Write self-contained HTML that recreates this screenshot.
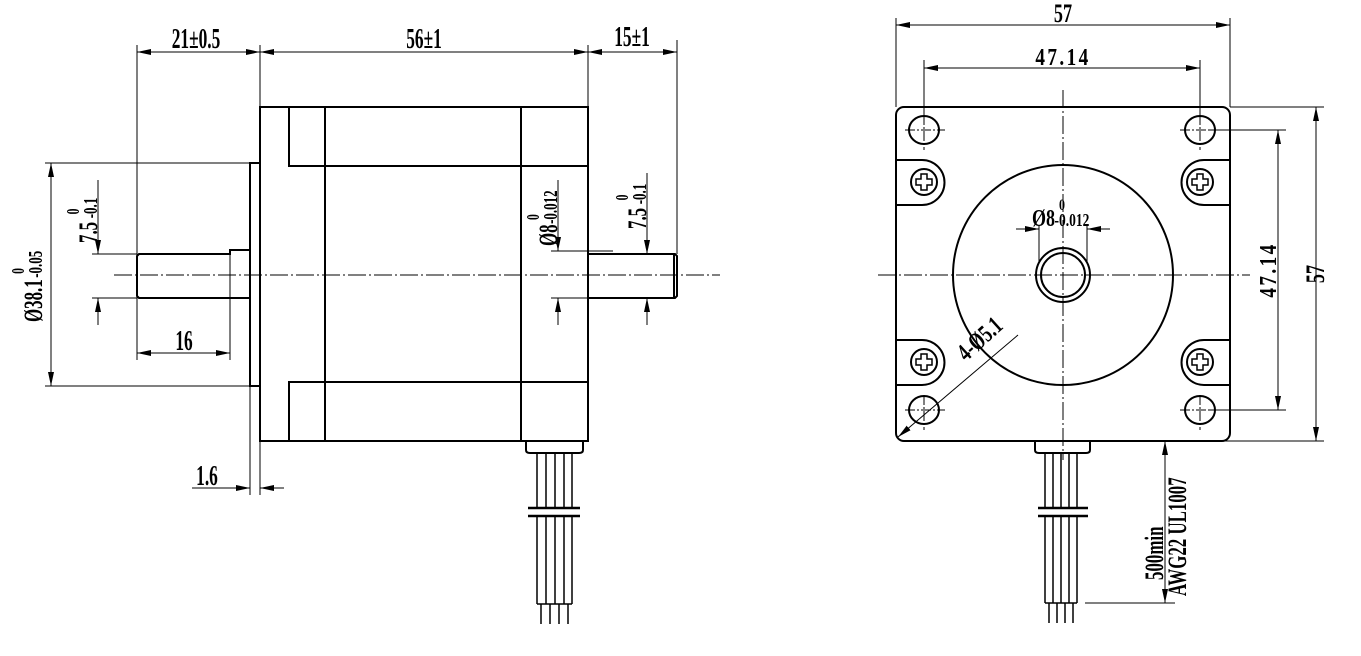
<!DOCTYPE html>
<html><head><meta charset="utf-8"><style>
html,body{margin:0;padding:0;background:#fff;}
svg{display:block;}
text{font-family:"Liberation Serif",serif;fill:#000;font-weight:bold;}
</style></head><body>
<svg width="1361" height="656" viewBox="0 0 1361 656" xmlns="http://www.w3.org/2000/svg">
<defs>
<marker id="a" viewBox="0 0 14 6" refX="14" refY="3" markerWidth="14" markerHeight="6" markerUnits="userSpaceOnUse" orient="auto-start-reverse"><path d="M0,0 L14,3 L0,6 Z" fill="#000"/></marker>
</defs>
<g stroke="#000" fill="none" stroke-width="1">
<line x1="137" y1="45" x2="137" y2="360"/>
<line x1="260" y1="45" x2="260" y2="107"/>
<line x1="588" y1="45" x2="588" y2="107"/>
<line x1="677" y1="40" x2="677" y2="254"/>
<line x1="137" y1="52" x2="260" y2="52" marker-start="url(#a)" marker-end="url(#a)"/>
<line x1="260" y1="52" x2="588" y2="52" marker-start="url(#a)" marker-end="url(#a)"/>
<line x1="588" y1="52" x2="677" y2="52" marker-start="url(#a)" marker-end="url(#a)"/>
<g stroke-width="2">
<rect x="260" y="107" width="328" height="334"/>
<polyline points="289,107 289,166 588,166"/>
<polyline points="289,441 289,382 588,382"/>
<line x1="325" y1="107" x2="325" y2="441"/>
<line x1="521" y1="107" x2="521" y2="441"/>
<polyline points="260,163 250,163 250,386 260,386"/>
<polyline points="250,250 230,250 230,254 139,254 137,256 137,296 139,298 250,298"/>
<line x1="230" y1="254" x2="230" y2="298" stroke-width="1"/>
<polyline points="588,254 675,254 677,256 677,296 675,298 588,298"/>
<line x1="674" y1="254" x2="674" y2="298"/>
<path d="M526,441 L526,450 Q526,453 530,453 L579,453 Q583,453 583,450 L583,441"/>
</g>
<g stroke-width="1.5">
<line x1="537" y1="453" x2="537" y2="508"/><line x1="546" y1="453" x2="546" y2="508"/><line x1="555" y1="453" x2="555" y2="508"/><line x1="564" y1="453" x2="564" y2="508"/><line x1="572" y1="453" x2="572" y2="508"/>
<line x1="528" y1="508" x2="580" y2="508" stroke-width="2.5"/>
<line x1="528" y1="516" x2="580" y2="516" stroke-width="2.5"/>
<line x1="537" y1="516" x2="537" y2="604"/><line x1="546" y1="516" x2="546" y2="604"/><line x1="555" y1="516" x2="555" y2="604"/><line x1="564" y1="516" x2="564" y2="604"/><line x1="572" y1="516" x2="572" y2="604"/>
<line x1="537" y1="604" x2="572" y2="604"/>
<line x1="541" y1="604" x2="541" y2="624"/><line x1="550" y1="604" x2="550" y2="624"/><line x1="559" y1="604" x2="559" y2="624"/><line x1="568" y1="604" x2="568" y2="624"/>
</g>
<line x1="114" y1="275" x2="720" y2="275" stroke-dasharray="18,3,2,3"/>
<line x1="45" y1="163" x2="250" y2="163"/>
<line x1="45" y1="386" x2="260" y2="386"/>
<line x1="51" y1="163" x2="51" y2="386" marker-start="url(#a)" marker-end="url(#a)"/>
<line x1="92" y1="254" x2="137" y2="254"/>
<line x1="92" y1="298" x2="137" y2="298"/>
<line x1="98" y1="180" x2="98" y2="254" marker-end="url(#a)"/>
<line x1="98" y1="325" x2="98" y2="298" marker-end="url(#a)"/>
<line x1="551" y1="251" x2="613" y2="251"/>
<line x1="551" y1="298" x2="588" y2="298"/>
<line x1="558" y1="180" x2="558" y2="251" marker-end="url(#a)"/>
<line x1="558" y1="325" x2="558" y2="298" marker-end="url(#a)"/>
<line x1="647" y1="173" x2="647" y2="254" marker-end="url(#a)"/>
<line x1="647" y1="325" x2="647" y2="298" marker-end="url(#a)"/>
<line x1="230" y1="298" x2="230" y2="360"/>
<line x1="137" y1="353" x2="230" y2="353" marker-start="url(#a)" marker-end="url(#a)"/>
<line x1="250" y1="386" x2="250" y2="495"/>
<line x1="260" y1="441" x2="260" y2="495"/>
<line x1="192" y1="488" x2="250" y2="488" marker-end="url(#a)"/>
<line x1="284" y1="488" x2="260" y2="488" marker-end="url(#a)"/>

<rect x="896" y="107" width="334" height="334" rx="8" stroke-width="2"/>
<g stroke-width="2">
<path d="M896,160 L922,160 A22,22 0 0 1 922,205 L896,205"/>
<path d="M1230,160 L1204,160 A22,22 0 0 0 1204,205 L1230,205"/>
<path d="M896,340 L922,340 A22,22 0 0 1 922,385 L896,385"/>
<path d="M1230,340 L1204,340 A22,22 0 0 0 1204,385 L1230,385"/>
<ellipse cx="924" cy="130" rx="15" ry="14"/>
<ellipse cx="1200" cy="130" rx="15" ry="14"/>
<ellipse cx="924" cy="410" rx="15" ry="14"/>
<ellipse cx="1200" cy="410" rx="15" ry="14"/>
<circle cx="1063" cy="275" r="110"/>
<circle cx="1063" cy="275" r="27"/>
<circle cx="1063" cy="275" r="22"/>
</g>
<g stroke-width="2">
<circle cx="924" cy="182" r="13"/><circle cx="1200" cy="182" r="13"/><circle cx="924" cy="362" r="13"/><circle cx="1200" cy="362" r="13"/>
</g>
<g stroke-width="1.5">
<path d="M921,174 h6 v5 h5 v6 h-5 v5 h-6 v-5 h-5 v-6 h5z"/>
<path d="M1197,174 h6 v5 h5 v6 h-5 v5 h-6 v-5 h-5 v-6 h5z"/>
<path d="M921,354 h6 v5 h5 v6 h-5 v5 h-6 v-5 h-5 v-6 h5z"/>
<path d="M1197,354 h6 v5 h5 v6 h-5 v5 h-6 v-5 h-5 v-6 h5z"/>
</g>
<line x1="878" y1="275" x2="1250" y2="275" stroke-dasharray="18,3,2,3"/>
<line x1="1063" y1="90" x2="1063" y2="460" stroke-dasharray="18,3,2,3"/>
<line x1="905" y1="130" x2="945" y2="130" stroke-dasharray="10,2,2,2"/><line x1="924" y1="115" x2="924" y2="150" stroke-dasharray="10,2,2,2"/>
<line x1="1180" y1="130" x2="1220" y2="130" stroke-dasharray="10,2,2,2"/><line x1="1200" y1="115" x2="1200" y2="150" stroke-dasharray="10,2,2,2"/>
<line x1="905" y1="410" x2="945" y2="410" stroke-dasharray="10,2,2,2"/><line x1="924" y1="395" x2="924" y2="430" stroke-dasharray="10,2,2,2"/>
<line x1="1180" y1="410" x2="1220" y2="410" stroke-dasharray="10,2,2,2"/><line x1="1200" y1="395" x2="1200" y2="430" stroke-dasharray="10,2,2,2"/>
<line x1="896" y1="18" x2="896" y2="107"/>
<line x1="1230" y1="18" x2="1230" y2="107"/>
<line x1="896" y1="25" x2="1230" y2="25" marker-start="url(#a)" marker-end="url(#a)"/>
<line x1="924" y1="60" x2="924" y2="116"/>
<line x1="1200" y1="60" x2="1200" y2="116"/>
<line x1="924" y1="68" x2="1200" y2="68" marker-start="url(#a)" marker-end="url(#a)"/>
<line x1="1230" y1="107" x2="1324" y2="107"/>
<line x1="1220" y1="441" x2="1324" y2="441"/>
<line x1="1316" y1="107" x2="1316" y2="441" marker-start="url(#a)" marker-end="url(#a)"/>
<line x1="1210" y1="130" x2="1286" y2="130"/>
<line x1="1210" y1="410" x2="1286" y2="410"/>
<line x1="1278" y1="130" x2="1278" y2="410" marker-start="url(#a)" marker-end="url(#a)"/>
<line x1="1039" y1="225" x2="1039" y2="262"/>
<line x1="1087" y1="225" x2="1087" y2="262"/>
<line x1="1016" y1="229" x2="1039" y2="229" marker-end="url(#a)"/>
<line x1="1110" y1="229" x2="1087" y2="229" marker-end="url(#a)"/>
<line x1="1018" y1="335" x2="898" y2="437" marker-end="url(#a)"/>
<path d="M1035,441 L1035,450 Q1035,453 1039,453 L1086,453 Q1090,453 1090,450 L1090,441" stroke-width="2"/>
<g stroke-width="1.5">
<line x1="1045" y1="453" x2="1045" y2="508"/><line x1="1053" y1="453" x2="1053" y2="508"/><line x1="1061" y1="453" x2="1061" y2="508"/><line x1="1069" y1="453" x2="1069" y2="508"/><line x1="1077" y1="453" x2="1077" y2="508"/>
<line x1="1038" y1="508" x2="1088" y2="508" stroke-width="2.5"/>
<line x1="1038" y1="516" x2="1088" y2="516" stroke-width="2.5"/>
<line x1="1045" y1="516" x2="1045" y2="603"/><line x1="1053" y1="516" x2="1053" y2="603"/><line x1="1061" y1="516" x2="1061" y2="603"/><line x1="1069" y1="516" x2="1069" y2="603"/><line x1="1077" y1="516" x2="1077" y2="603"/>
<line x1="1045" y1="603" x2="1077" y2="603"/>
<line x1="1049" y1="603" x2="1049" y2="623"/><line x1="1057" y1="603" x2="1057" y2="623"/><line x1="1065" y1="603" x2="1065" y2="623"/><line x1="1073" y1="603" x2="1073" y2="623"/>
</g>
<line x1="1085" y1="603" x2="1175" y2="603"/>
<line x1="1165" y1="441" x2="1165" y2="603" marker-start="url(#a)" marker-end="url(#a)"/>
</g>
<g font-size="28">
<g transform="translate(196,48) scale(0.62,1)"><text text-anchor="middle">21±0.5</text></g>
<g transform="translate(424,48) scale(0.62,1)"><text text-anchor="middle">56±1</text></g>
<g transform="translate(632,46) scale(0.62,1)"><text text-anchor="middle">15±1</text></g>
<g transform="translate(184,350) scale(0.62,1)"><text text-anchor="middle">16</text></g>
<g transform="translate(207,485) scale(0.62,1)"><text text-anchor="middle">1.6</text></g>
<g transform="translate(42,322) rotate(-90) scale(0.65,1)"><text x="0" y="0" font-size="26">Ø38.1</text><text x="68" y="0" font-size="20">-0.05</text><text x="74" y="-18" font-size="18">0</text></g>
<g transform="translate(97,243) rotate(-90) scale(0.65,1)"><text x="0" y="0" font-size="26">7.5</text><text x="38" y="0" font-size="20">-0.1</text><text x="44" y="-18" font-size="18">0</text></g>
<g transform="translate(557,246) rotate(-90) scale(0.65,1)"><text x="0" y="0" font-size="26">Ø8</text><text x="34" y="0" font-size="20">-0.012</text><text x="40" y="-18" font-size="18">0</text></g>
<g transform="translate(646,229) rotate(-90) scale(0.65,1)"><text x="0" y="0" font-size="26">7.5</text><text x="38" y="0" font-size="20">-0.1</text><text x="44" y="-18" font-size="18">0</text></g>
<g transform="translate(1063,22) scale(0.7,1)"><text text-anchor="middle" font-size="26">57</text></g>
<g transform="translate(1063,65) scale(0.8,1)"><text text-anchor="middle" letter-spacing="3" font-size="24">47.14</text></g>
<g transform="translate(1032,226) scale(0.75,1)"><text font-size="24">Ø8</text><text x="30" font-size="18">-0.012</text><text x="36" y="-16" font-size="16">0</text></g>
<g transform="translate(1276,270) rotate(-90) scale(0.8,1)"><text text-anchor="middle" letter-spacing="3" font-size="24">47.14</text></g>
<g transform="translate(1324,274) rotate(-90) scale(0.7,1)"><text text-anchor="middle" font-size="26">57</text></g>
<g transform="translate(966,362) rotate(-42) scale(0.72,1)"><text font-size="25">4-Ø5.1</text></g>
<g transform="translate(1163,580) rotate(-90) scale(0.65,1)"><text font-size="26">500min</text></g>
<g transform="translate(1186,596) rotate(-90) scale(0.65,1)"><text font-size="26">AWG22 UL1007</text></g>
</g>
</svg>
</body></html>
